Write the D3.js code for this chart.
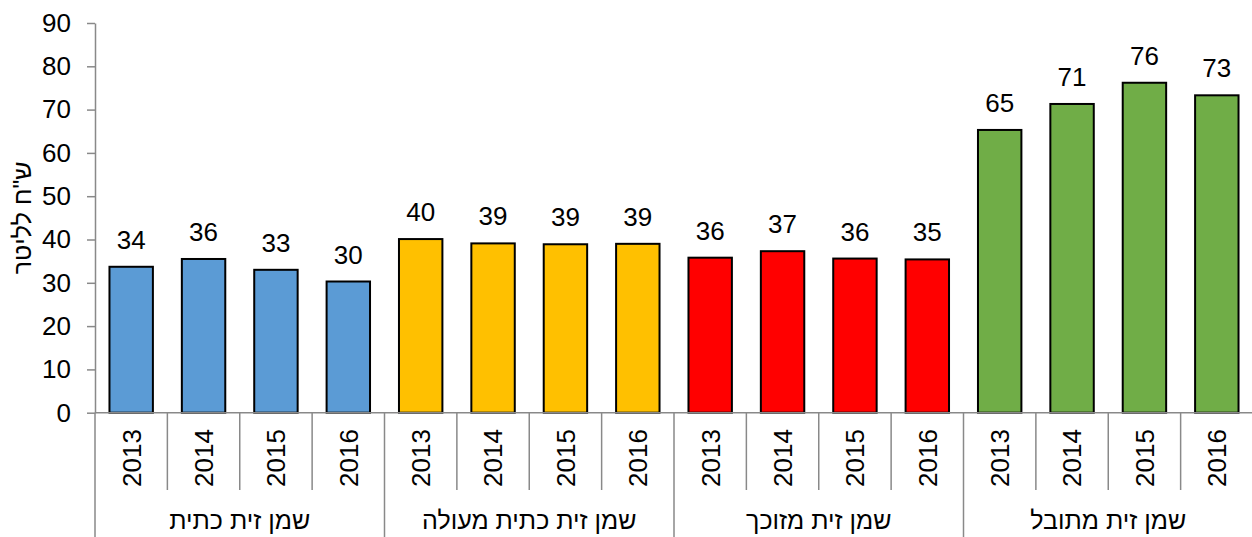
<!DOCTYPE html>
<html>
<head>
<meta charset="utf-8">
<script src="https://cdn.jsdelivr.net/npm/d3@7"></script>
<style>
  body { margin: 0; background: #fff; }
  text { font-family: "Liberation Sans", Arial, "DejaVu Sans", sans-serif; fill: #000; }
</style>
</head>
<body>
<div id="chart"></div>
<script>
const groups = ['שמן זית כתית', 'שמן זית כתית מעולה', 'שמן זית מזוכך', 'שמן זית מתובל']
const years = ['2013', '2014', '2015', '2016']
const groupColors = ['#5B9BD5', '#FFC000', '#FF0000', '#70AD47']
const prices = [
  [33.7, 35.5, 33.0, 30.3],
  [40.1, 39.1, 38.9, 39.0],
  [35.8, 37.3, 35.6, 35.4],
  [65.3, 71.3, 76.2, 73.3]
]
const labels = [
  ['34', '36', '33', '30'],
  ['40', '39', '39', '39'],
  ['36', '37', '36', '35'],
  ['65', '71', '76', '73']
]
const yTicks = [0, 10, 20, 30, 40, 50, 60, 70, 80, 90]
const yTitle = 'ש"ח לליטר'

const width = 1252
const height = 537
const padding = { left: 95, right: 0, top: 23, bottom: 124 }
const axisColor = '#898989'
const fontSize = 26

let svg = d3.select('#chart')
  .append('svg')
  .attr('width', width)
  .attr('height', height)

const rows = []
groups.forEach((g, gi) => {
  years.forEach((y, yi) => {
    rows.push({ key: g + '|' + y, group: gi, year: y, value: prices[gi][yi], label: labels[gi][yi] })
  })
})

const xScale = d3.scaleBand()
  .domain(rows.map(d => d.key))
  .range([padding.left, width + 1])
const yScale = d3.scaleLinear()
  .domain([0, 90])
  .range([height - padding.bottom - 0.3, padding.top])

const zeroY = yScale(0)
const barW = xScale.bandwidth() * 0.6

// bars
svg.selectAll('rect.bar')
  .data(rows)
  .enter()
  .append('rect')
  .attr('class', 'bar')
  .attr('x', d => xScale(d.key) + (xScale.bandwidth() - barW) / 2)
  .attr('y', d => yScale(d.value))
  .attr('width', barW)
  .attr('height', d => zeroY - yScale(d.value))
  .attr('fill', d => groupColors[d.group])
  .attr('stroke', '#000')
  .attr('stroke-width', 2)

// value labels
svg.selectAll('text.val')
  .data(rows)
  .enter()
  .append('text')
  .attr('class', 'val')
  .attr('x', d => xScale(d.key) + xScale.bandwidth() / 2)
  .attr('y', d => yScale(d.value) - 18)
  .attr('text-anchor', 'middle')
  .attr('font-size', fontSize)
  .text(d => d.label)

// y axis
const yAxis = d3.axisLeft(yScale)
  .tickValues(yTicks)
  .tickSize(8)
  .tickPadding(16)
  .tickSizeOuter(0)
let yg = svg.append('g')
  .attr('transform', `translate(${padding.left}, 0)`)
  .call(yAxis)
yg.select('.domain').attr('stroke', axisColor).attr('stroke-width', 1.5)
yg.selectAll('.tick line').attr('stroke', axisColor).attr('stroke-width', 1.5)
yg.selectAll('.tick text').attr('font-size', fontSize).attr('fill', '#000')
  .style('font-family', '"Liberation Sans", Arial, sans-serif')

// x axis base line
svg.append('line')
  .attr('x1', padding.left).attr('x2', width)
  .attr('y1', zeroY).attr('y2', zeroY)
  .attr('stroke', axisColor).attr('stroke-width', 1.5)

// category separators
const bounds = rows.map((d, i) => ({ x: xScale(d.key), isGroup: i % 4 === 0 }))
bounds.push({ x: xScale.range()[1], isGroup: true })
svg.selectAll('line.sep')
  .data(bounds)
  .enter()
  .append('line')
  .attr('class', 'sep')
  .attr('x1', d => d.x).attr('x2', d => d.x)
  .attr('y1', zeroY)
  .attr('y2', d => d.isGroup ? height : 490)
  .attr('stroke', axisColor)
  .attr('stroke-width', 1.5)

// year labels
svg.selectAll('text.year')
  .data(rows)
  .enter()
  .append('text')
  .attr('class', 'year')
  .attr('transform', d => `translate(${xScale(d.key) + xScale.bandwidth() / 2}, 458) rotate(-90)`)
  .attr('text-anchor', 'middle')
  .attr('dy', '0.36em')
  .attr('font-size', fontSize)
  .text(d => d.year)

// group labels
svg.selectAll('text.grp')
  .data(groups)
  .enter()
  .append('text')
  .attr('class', 'grp')
  .attr('x', (d, i) => (xScale(groups[i] + '|' + years[0]) + xScale(groups[i] + '|' + years[3]) + xScale.bandwidth()) / 2)
  .attr('y', 529)
  .attr('text-anchor', 'middle')
  .attr('font-size', fontSize - 1)
  .text(d => d)

// y title
svg.append('text')
  .attr('transform', `translate(31, ${(padding.top + zeroY) / 2}) rotate(-90)`)
  .attr('text-anchor', 'middle')
  .attr('font-size', fontSize - 1)
  .text(yTitle)
</script>
</body>
</html>
